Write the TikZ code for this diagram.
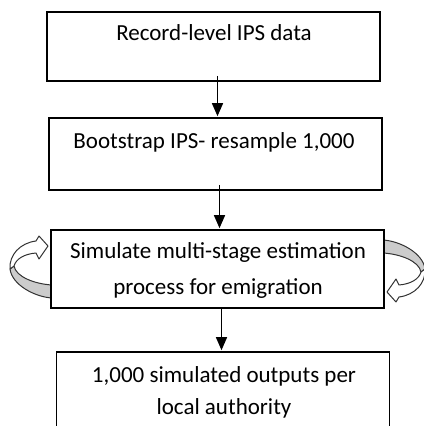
\documentclass[tikz,border=0pt]{standalone}
\usepackage{fontspec}
\setmainfont{Carlito}
\usetikzlibrary{arrows.meta}

\begin{document}
\begin{tikzpicture}[thick, x=0.5pt, y=-0.5pt,
		box/.style={draw, fill=white, minimum width=166.5pt, inner sep=0pt},
		txt/.style={anchor=base, align=center, inner sep=0pt, font=\fontsize{11.5}{18}\selectfont},
		flow/.style={-{Triangle[width=5.5pt,length=6.5pt]}, line width=0.7pt, shorten >=0.5pt},
		turnface/.style={draw=black!80, fill=white, line width=0.5pt, line join=round},
		turnback/.style={draw=black!80, fill=gray!40, line width=0.5pt, line join=round}]
	\useasboundingbox (0,0) rectangle (423,426);

	% looping arrows round the simulation step
	\foreach \r in {0,180}{
		\begin{scope}[shift={(217.5,269)}, rotate=\r]
			\draw[turnback] (-207.5,0) .. controls (-205.5,16) and (-182.5,28) .. (-165.5,29)
				-- (-165.5,16) .. controls (-182.5,15) and (-201.5,8) .. (-203.5,-3) -- cycle;
			\draw[turnface] (-169.5,-23) -- (-178.5,-33) -- (-181.5,-28)
				.. controls (-197.5,-26) and (-208.5,-14) .. (-207.5,0) -- (-203.5,-3)
				.. controls (-201.5,-10) and (-193.5,-15) .. (-181.5,-16) -- (-178.5,-10) -- cycle;
		\end{scope}
	}

	% boxes
	\node[box, minimum height=34.5pt] (rec) at (213.5,46.5) {};
	\node[box, minimum height=36pt] (boot) at (215.5,154) {};
	\node[box, minimum height=39pt] (sim) at (217.5,269) {};
	\node[box, minimum height=45pt] (out) at (223,397) {};

	% texts (base = last line)
	\node[txt] (rectxt) at (214,41) {Record-level IPS data};
	\node[txt] (boottxt) at (214,148.3) {Bootstrap IPS- resample 1,000};
	\node[txt] (simtxt) at (218,294) {Simulate multi-stage estimation\\process for emigration};
	\node[txt, font=\fontsize{11.5}{16}\selectfont] (outtxt) at (224,414) {1,000 simulated outputs per\\local authority};

	% flow
	\foreach \a/\b/\s in {rec/boot/3, boot/sim/3, sim/out/0}
		\draw[flow] ([xshift=2pt, yshift=\s pt]\a.south) -- ([xshift=2pt]\a.south |- \b.north);
\end{tikzpicture}
\end{document}
